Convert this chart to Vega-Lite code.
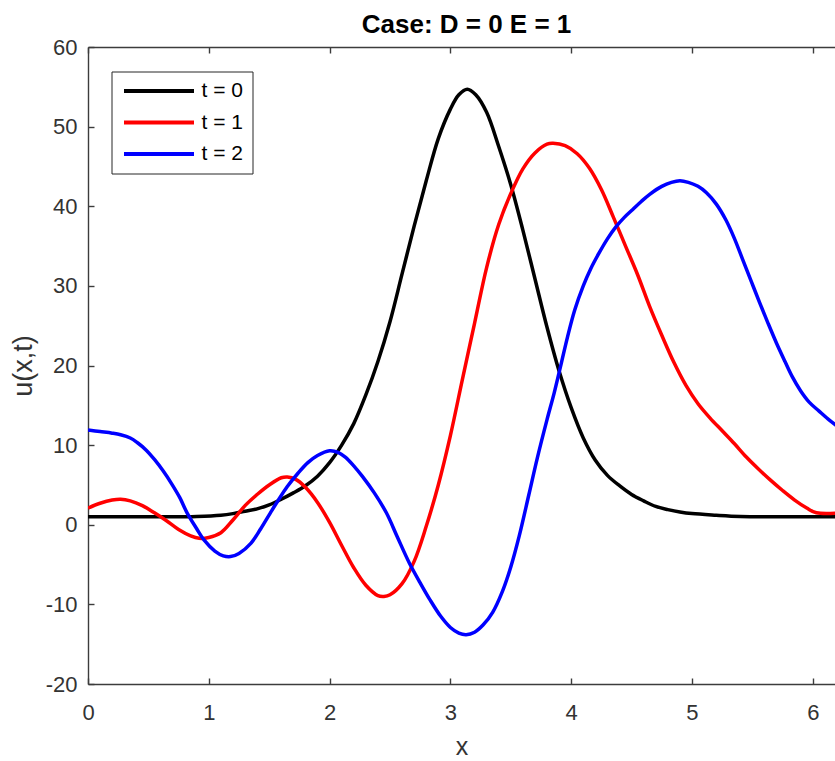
{
  "$schema": "https://vega.github.io/schema/vega-lite/v6.json",
  "width": 747,
  "height": 637,
  "autosize": {"type": "none"},
  "padding": {"left": 88, "top": 47, "right": 0, "bottom": 77},
  "background": "white",
  "title": {"text": "Case: D = 0 E = 1", "font": "Liberation Sans", "fontSize": 26, "fontWeight": "bold", "color": "#000000", "offset": -2, "dx": 5},
  "datasets": {
    "curves": [
      {"t":"t = 0","x":0.0,"u":1.0},{"t":"t = 0","x":0.3,"u":1.0},{"t":"t = 0","x":0.6,"u":1.0},{"t":"t = 0","x":0.9,"u":1.05},
      {"t":"t = 0","x":1.1,"u":1.2},{"t":"t = 0","x":1.2,"u":1.4},{"t":"t = 0","x":1.3,"u":1.7},{"t":"t = 0","x":1.4,"u":2.0},
      {"t":"t = 0","x":1.5,"u":2.5},{"t":"t = 0","x":1.6,"u":3.2},{"t":"t = 0","x":1.7,"u":4.0},{"t":"t = 0","x":1.8,"u":4.9},
      {"t":"t = 0","x":1.9,"u":6.1},{"t":"t = 0","x":2.0,"u":7.8},{"t":"t = 0","x":2.1,"u":10.0},{"t":"t = 0","x":2.2,"u":12.7},
      {"t":"t = 0","x":2.3,"u":16.3},{"t":"t = 0","x":2.4,"u":20.5},{"t":"t = 0","x":2.5,"u":25.5},{"t":"t = 0","x":2.6,"u":31.5},
      {"t":"t = 0","x":2.7,"u":37.5},{"t":"t = 0","x":2.8,"u":43.2},{"t":"t = 0","x":2.9,"u":48.5},{"t":"t = 0","x":3.0,"u":52.2},
      {"t":"t = 0","x":3.07,"u":54.0},{"t":"t = 0","x":3.14,"u":54.7},{"t":"t = 0","x":3.21,"u":54.0},{"t":"t = 0","x":3.3,"u":51.8},
      {"t":"t = 0","x":3.4,"u":47.5},{"t":"t = 0","x":3.5,"u":42.7},{"t":"t = 0","x":3.6,"u":37.0},{"t":"t = 0","x":3.7,"u":30.9},
      {"t":"t = 0","x":3.8,"u":24.8},{"t":"t = 0","x":3.9,"u":19.3},{"t":"t = 0","x":4.0,"u":14.7},{"t":"t = 0","x":4.1,"u":10.9},
      {"t":"t = 0","x":4.2,"u":8.1},{"t":"t = 0","x":4.3,"u":6.2},{"t":"t = 0","x":4.4,"u":4.9},{"t":"t = 0","x":4.5,"u":3.8},
      {"t":"t = 0","x":4.6,"u":3.0},{"t":"t = 0","x":4.7,"u":2.3},{"t":"t = 0","x":4.8,"u":1.9},{"t":"t = 0","x":4.9,"u":1.6},
      {"t":"t = 0","x":5.0,"u":1.4},{"t":"t = 0","x":5.2,"u":1.2},{"t":"t = 0","x":5.4,"u":1.05},{"t":"t = 0","x":5.7,"u":1.0},
      {"t":"t = 0","x":6.0,"u":1.0},{"t":"t = 0","x":6.25,"u":1.0},

      {"t":"t = 1","x":0.0,"u":2.1},{"t":"t = 1","x":0.1,"u":2.7},{"t":"t = 1","x":0.2,"u":3.1},{"t":"t = 1","x":0.27,"u":3.2},
      {"t":"t = 1","x":0.35,"u":3.0},{"t":"t = 1","x":0.45,"u":2.4},{"t":"t = 1","x":0.55,"u":1.5},{"t":"t = 1","x":0.65,"u":0.5},
      {"t":"t = 1","x":0.75,"u":-0.6},{"t":"t = 1","x":0.85,"u":-1.4},{"t":"t = 1","x":0.92,"u":-1.7},{"t":"t = 1","x":1.0,"u":-1.6},
      {"t":"t = 1","x":1.1,"u":-1.0},{"t":"t = 1","x":1.2,"u":0.6},{"t":"t = 1","x":1.3,"u":2.4},{"t":"t = 1","x":1.4,"u":3.8},
      {"t":"t = 1","x":1.5,"u":5.0},{"t":"t = 1","x":1.6,"u":5.9},{"t":"t = 1","x":1.65,"u":6.0},{"t":"t = 1","x":1.72,"u":5.7},
      {"t":"t = 1","x":1.8,"u":4.7},{"t":"t = 1","x":1.9,"u":2.8},{"t":"t = 1","x":2.0,"u":0.3},{"t":"t = 1","x":2.1,"u":-2.6},
      {"t":"t = 1","x":2.2,"u":-5.4},{"t":"t = 1","x":2.3,"u":-7.6},{"t":"t = 1","x":2.4,"u":-8.9},{"t":"t = 1","x":2.45,"u":-9.0},
      {"t":"t = 1","x":2.5,"u":-8.8},{"t":"t = 1","x":2.6,"u":-7.4},{"t":"t = 1","x":2.7,"u":-4.6},{"t":"t = 1","x":2.8,"u":-0.2},
      {"t":"t = 1","x":2.9,"u":5.0},{"t":"t = 1","x":3.0,"u":11.2},{"t":"t = 1","x":3.1,"u":18.3},{"t":"t = 1","x":3.2,"u":25.3},
      {"t":"t = 1","x":3.3,"u":32.3},{"t":"t = 1","x":3.4,"u":37.7},{"t":"t = 1","x":3.5,"u":41.6},{"t":"t = 1","x":3.6,"u":44.7},
      {"t":"t = 1","x":3.7,"u":46.7},{"t":"t = 1","x":3.8,"u":47.8},{"t":"t = 1","x":3.85,"u":47.9},{"t":"t = 1","x":3.95,"u":47.6},
      {"t":"t = 1","x":4.05,"u":46.6},{"t":"t = 1","x":4.15,"u":44.8},{"t":"t = 1","x":4.25,"u":42.1},{"t":"t = 1","x":4.35,"u":38.6},
      {"t":"t = 1","x":4.45,"u":35.0},{"t":"t = 1","x":4.55,"u":31.4},{"t":"t = 1","x":4.65,"u":27.4},{"t":"t = 1","x":4.75,"u":23.8},
      {"t":"t = 1","x":4.85,"u":20.4},{"t":"t = 1","x":4.95,"u":17.5},{"t":"t = 1","x":5.05,"u":15.2},{"t":"t = 1","x":5.15,"u":13.4},
      {"t":"t = 1","x":5.25,"u":11.8},{"t":"t = 1","x":5.35,"u":10.2},{"t":"t = 1","x":5.45,"u":8.5},{"t":"t = 1","x":5.55,"u":7.0},
      {"t":"t = 1","x":5.65,"u":5.6},{"t":"t = 1","x":5.75,"u":4.3},{"t":"t = 1","x":5.85,"u":3.1},{"t":"t = 1","x":5.95,"u":2.1},
      {"t":"t = 1","x":6.03,"u":1.5},{"t":"t = 1","x":6.25,"u":1.5},

      {"t":"t = 2","x":0.0,"u":11.9},{"t":"t = 2","x":0.1,"u":11.7},{"t":"t = 2","x":0.2,"u":11.5},{"t":"t = 2","x":0.27,"u":11.3},
      {"t":"t = 2","x":0.35,"u":10.9},{"t":"t = 2","x":0.41,"u":10.3},{"t":"t = 2","x":0.48,"u":9.4},{"t":"t = 2","x":0.55,"u":8.2},
      {"t":"t = 2","x":0.62,"u":6.8},{"t":"t = 2","x":0.69,"u":5.2},{"t":"t = 2","x":0.76,"u":3.4},{"t":"t = 2","x":0.82,"u":1.5},
      {"t":"t = 2","x":0.9,"u":-0.5},{"t":"t = 2","x":0.96,"u":-1.9},{"t":"t = 2","x":1.05,"u":-3.3},{"t":"t = 2","x":1.12,"u":-3.9},
      {"t":"t = 2","x":1.18,"u":-4.0},{"t":"t = 2","x":1.25,"u":-3.6},{"t":"t = 2","x":1.35,"u":-2.3},{"t":"t = 2","x":1.43,"u":-0.5},
      {"t":"t = 2","x":1.51,"u":1.5},{"t":"t = 2","x":1.58,"u":3.2},{"t":"t = 2","x":1.65,"u":4.8},{"t":"t = 2","x":1.74,"u":6.5},
      {"t":"t = 2","x":1.82,"u":7.8},{"t":"t = 2","x":1.9,"u":8.7},{"t":"t = 2","x":2.0,"u":9.3},{"t":"t = 2","x":2.07,"u":9.1},
      {"t":"t = 2","x":2.13,"u":8.5},{"t":"t = 2","x":2.2,"u":7.4},{"t":"t = 2","x":2.27,"u":6.1},{"t":"t = 2","x":2.37,"u":4.0},
      {"t":"t = 2","x":2.47,"u":1.5},{"t":"t = 2","x":2.56,"u":-1.5},{"t":"t = 2","x":2.66,"u":-4.8},{"t":"t = 2","x":2.75,"u":-7.3},
      {"t":"t = 2","x":2.83,"u":-9.4},{"t":"t = 2","x":2.92,"u":-11.5},{"t":"t = 2","x":3.0,"u":-12.9},{"t":"t = 2","x":3.07,"u":-13.6},
      {"t":"t = 2","x":3.13,"u":-13.8},{"t":"t = 2","x":3.2,"u":-13.5},{"t":"t = 2","x":3.27,"u":-12.6},{"t":"t = 2","x":3.35,"u":-11.0},
      {"t":"t = 2","x":3.43,"u":-8.4},{"t":"t = 2","x":3.5,"u":-5.3},{"t":"t = 2","x":3.57,"u":-1.4},{"t":"t = 2","x":3.65,"u":3.8},
      {"t":"t = 2","x":3.72,"u":8.4},{"t":"t = 2","x":3.8,"u":13.2},{"t":"t = 2","x":3.86,"u":16.6},{"t":"t = 2","x":3.92,"u":20.4},
      {"t":"t = 2","x":3.97,"u":23.6},{"t":"t = 2","x":4.03,"u":27.0},{"t":"t = 2","x":4.1,"u":30.0},{"t":"t = 2","x":4.16,"u":32.1},
      {"t":"t = 2","x":4.23,"u":34.1},{"t":"t = 2","x":4.3,"u":35.9},{"t":"t = 2","x":4.37,"u":37.4},{"t":"t = 2","x":4.44,"u":38.6},
      {"t":"t = 2","x":4.51,"u":39.6},{"t":"t = 2","x":4.58,"u":40.6},{"t":"t = 2","x":4.65,"u":41.5},{"t":"t = 2","x":4.75,"u":42.5},
      {"t":"t = 2","x":4.83,"u":43.0},{"t":"t = 2","x":4.9,"u":43.2},{"t":"t = 2","x":4.97,"u":43.0},{"t":"t = 2","x":5.05,"u":42.5},
      {"t":"t = 2","x":5.12,"u":41.7},{"t":"t = 2","x":5.2,"u":40.3},{"t":"t = 2","x":5.28,"u":38.3},{"t":"t = 2","x":5.35,"u":36.0},
      {"t":"t = 2","x":5.42,"u":33.3},{"t":"t = 2","x":5.49,"u":30.6},{"t":"t = 2","x":5.56,"u":27.9},{"t":"t = 2","x":5.63,"u":25.3},
      {"t":"t = 2","x":5.7,"u":22.8},{"t":"t = 2","x":5.77,"u":20.5},{"t":"t = 2","x":5.83,"u":18.6},{"t":"t = 2","x":5.9,"u":16.8},
      {"t":"t = 2","x":5.97,"u":15.4},{"t":"t = 2","x":6.05,"u":14.3},{"t":"t = 2","x":6.14,"u":13.1},{"t":"t = 2","x":6.22,"u":12.2}
    ]
  },
  "data": {"name": "curves"},
  "layer": [
    {
      "mark": {"type": "line", "strokeWidth": 3.5, "interpolate": "catmull-rom", "clip": true},
      "encoding": {
        "x": {"field": "x", "type": "quantitative",
              "scale": {"domain": [0, 6.184], "nice": false, "zero": false},
              "axis": {"orient": "bottom", "values": [0,1,2,3,4,5,6], "labelFlush": false, "labelExpr": "'' + datum.value", "title": "x", "titleFontSize": 25, "titlePadding": 11, "labelPadding": 24}},
        "y": {"field": "u", "type": "quantitative",
              "scale": {"domain": [-20, 60], "nice": false, "zero": false},
              "axis": {"values": [-20,-10,0,10,20,30,40,50,60], "labelExpr": "'' + datum.value", "labelFlush": false, "title": "u(x,t)", "titlePadding": 8, "labelPadding": 17}},
        "color": {"field": "t", "type": "nominal",
                  "scale": {"domain": ["t = 0", "t = 1", "t = 2"], "range": ["#000000", "#ff0000", "#0000ff"]},
                  "legend": {"orient": "none", "legendX": 23.5, "legendY": 24.5, "title": null,
                             "symbolType": "M-5,0H5", "symbolSize": 196, "symbolStrokeWidth": 4,
                             "symbolFillColor": "transparent", "symbolOffset": 28,
                             "labelFont": "Liberation Sans", "labelFontSize": 21, "labelColor": "#000000",
                             "fillColor": "#ffffff", "strokeColor": "#262626", "padding": 9,
                             "rowPadding": 9.5, "labelOffset": 32, "cornerRadius": 0}}
      }
    },
    {
      "mark": {"type": "line", "opacity": 0},
      "encoding": {
        "x": {"field": "x", "type": "quantitative",
              "scale": {"domain": [0, 6.184], "nice": false, "zero": false},
              "axis": {"orient": "top", "values": [0,1,2,3,4,5,6], "labels": false, "title": null}},
        "y": {"field": "u", "type": "quantitative"}
      }
    }
  ],
  "resolve": {"axis": {"x": "independent"}},
  "config": {
    "view": {"stroke": null},
    "axis": {
      "grid": false,
      "domainColor": "#3c3c3c", "domainWidth": 1.4,
      "tickColor": "#3c3c3c", "tickWidth": 1.4, "tickSize": -6,
      "labelFont": "Liberation Sans", "labelFontSize": 22, "labelColor": "#333333",
      "titleFont": "Liberation Sans", "titleFontSize": 27, "titleFontWeight": "normal", "titleColor": "#333333"
    }
  }
}
